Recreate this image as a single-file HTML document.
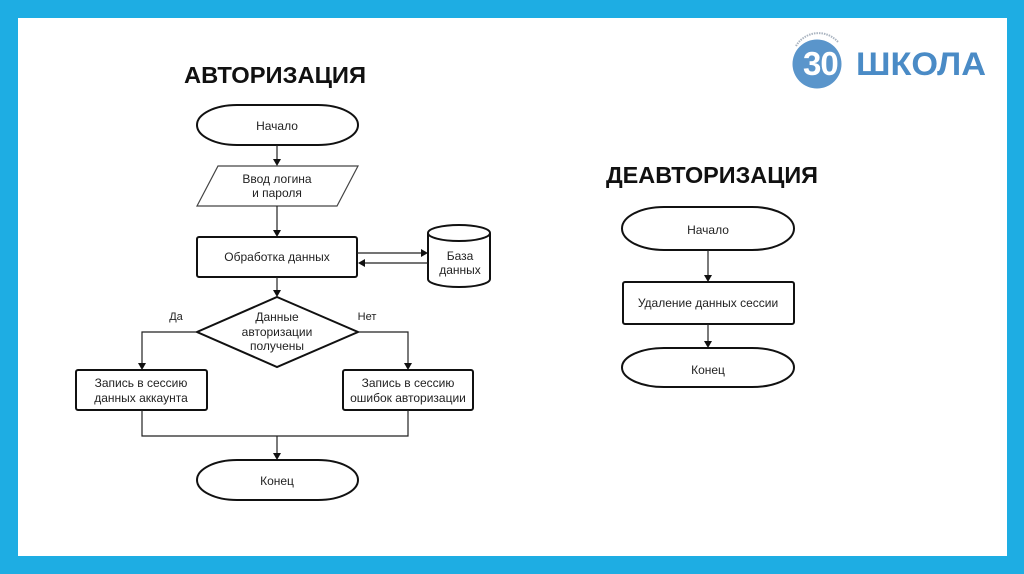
<!DOCTYPE html>
<html><head><meta charset="utf-8"><style>
html,body{margin:0;padding:0;background:#1eade3;}
svg{display:block;}
text{font-family:"Liberation Sans",Arial,sans-serif;}
</style></head><body>
<svg width="1024" height="574" viewBox="0 0 1024 574" xmlns="http://www.w3.org/2000/svg">
<defs>
<clipPath id="cc"><circle cx="817" cy="64" r="24.5"/></clipPath>
</defs>
<rect x="0" y="0" width="1024" height="574" fill="#1eade3"/>
<rect x="18" y="18" width="989" height="538" fill="#ffffff"/>

<!-- logo -->
<path d="M796,46 A26,26 0 0 1 838,42" fill="none" stroke="#aab4c0" stroke-width="2" stroke-dasharray="1.5 1"/>
<circle cx="817" cy="64" r="24.5" fill="#5a95cb"/>
<text x="803" y="75" font-size="33" font-weight="bold" fill="#ffffff" clip-path="url(#cc)" letter-spacing="-1">30</text>
<text x="856" y="75" font-size="32" font-weight="bold" fill="#4a8bc6" textLength="130" lengthAdjust="spacingAndGlyphs">ШКОЛА</text>

<!-- titles -->
<text x="184" y="83" font-size="23" font-weight="bold" fill="#111" textLength="182" lengthAdjust="spacingAndGlyphs">АВТОРИЗАЦИЯ</text>
<text x="606" y="183" font-size="23" font-weight="bold" fill="#111" textLength="212" lengthAdjust="spacingAndGlyphs">ДЕАВТОРИЗАЦИЯ</text>

<g fill="none" stroke="#111" stroke-width="2">
<!-- auth flow shapes -->
<rect x="197" y="105" width="161" height="40" rx="40" ry="20"/>
<rect x="197" y="237" width="160" height="40" rx="2"/>
<polygon points="277,297 358,332 277,367 197,332"/>
<rect x="76" y="370" width="131" height="40" rx="2"/>
<rect x="343" y="370" width="130" height="40" rx="2"/>
<rect x="197" y="460" width="161" height="40" rx="40" ry="20"/>
<path d="M428,233 A31,8 0 0 1 490,233 L490,279 A31,8 0 0 1 428,279 Z"/>
<path d="M428,233 A31,8 0 0 0 490,233"/>
<!-- deauth shapes -->
<rect x="622" y="207" width="172" height="43" rx="42" ry="21.5"/>
<rect x="623" y="282" width="171" height="42" rx="2"/>
<rect x="622" y="348" width="172" height="39" rx="42" ry="19.5"/>
</g>
<polygon points="218,166 358,166 337,206 197,206" fill="none" stroke="#444" stroke-width="1.2"/>

<!-- connectors -->
<g fill="none" stroke="#222" stroke-width="1.2">
<line x1="277" y1="145" x2="277" y2="160"/>
<line x1="277" y1="206" x2="277" y2="231"/>
<line x1="357" y1="253" x2="422" y2="253"/>
<line x1="428" y1="263" x2="364" y2="263"/>
<line x1="277" y1="277" x2="277" y2="291"/>
<polyline points="197,332 142,332 142,364"/>
<polyline points="358,332 408,332 408,364"/>
<polyline points="142,410 142,436 408,436 408,410"/>
<line x1="277" y1="436" x2="277" y2="454"/>
<line x1="708" y1="250" x2="708" y2="276"/>
<line x1="708" y1="324" x2="708" y2="342"/>
</g>
<g fill="#111">
<polygon points="273,159 281,159 277,166"/>
<polygon points="273,230 281,230 277,237"/>
<polygon points="421,249 421,257 428,253"/>
<polygon points="365,259 365,267 358,263"/>
<polygon points="273,290 281,290 277,297"/>
<polygon points="138,363 146,363 142,370"/>
<polygon points="404,363 412,363 408,370"/>
<polygon points="273,453 281,453 277,460"/>
<polygon points="704,275 712,275 708,282"/>
<polygon points="704,341 712,341 708,348"/>
</g>

<!-- labels -->
<g font-size="12" fill="#222" text-anchor="middle">
<text x="277" y="130">Начало</text>
<text x="277" y="183">Ввод логина</text>
<text x="277" y="197">и пароля</text>
<text x="277" y="261">Обработка данных</text>
<text x="460" y="260">База</text>
<text x="460" y="274">данных</text>
<text x="277" y="321">Данные</text>
<text x="277" y="336">авторизации</text>
<text x="277" y="350">получены</text>
<text x="176" y="320" font-size="11">Да</text>
<text x="367" y="320" font-size="11">Нет</text>
<text x="141" y="387">Запись в сессию</text>
<text x="141" y="402">данных аккаунта</text>
<text x="408" y="387">Запись в сессию</text>
<text x="408" y="402">ошибок авторизации</text>
<text x="277" y="485">Конец</text>
<text x="708" y="234">Начало</text>
<text x="708" y="307">Удаление данных сессии</text>
<text x="708" y="374">Конец</text>
</g>
</svg>
</body></html>
